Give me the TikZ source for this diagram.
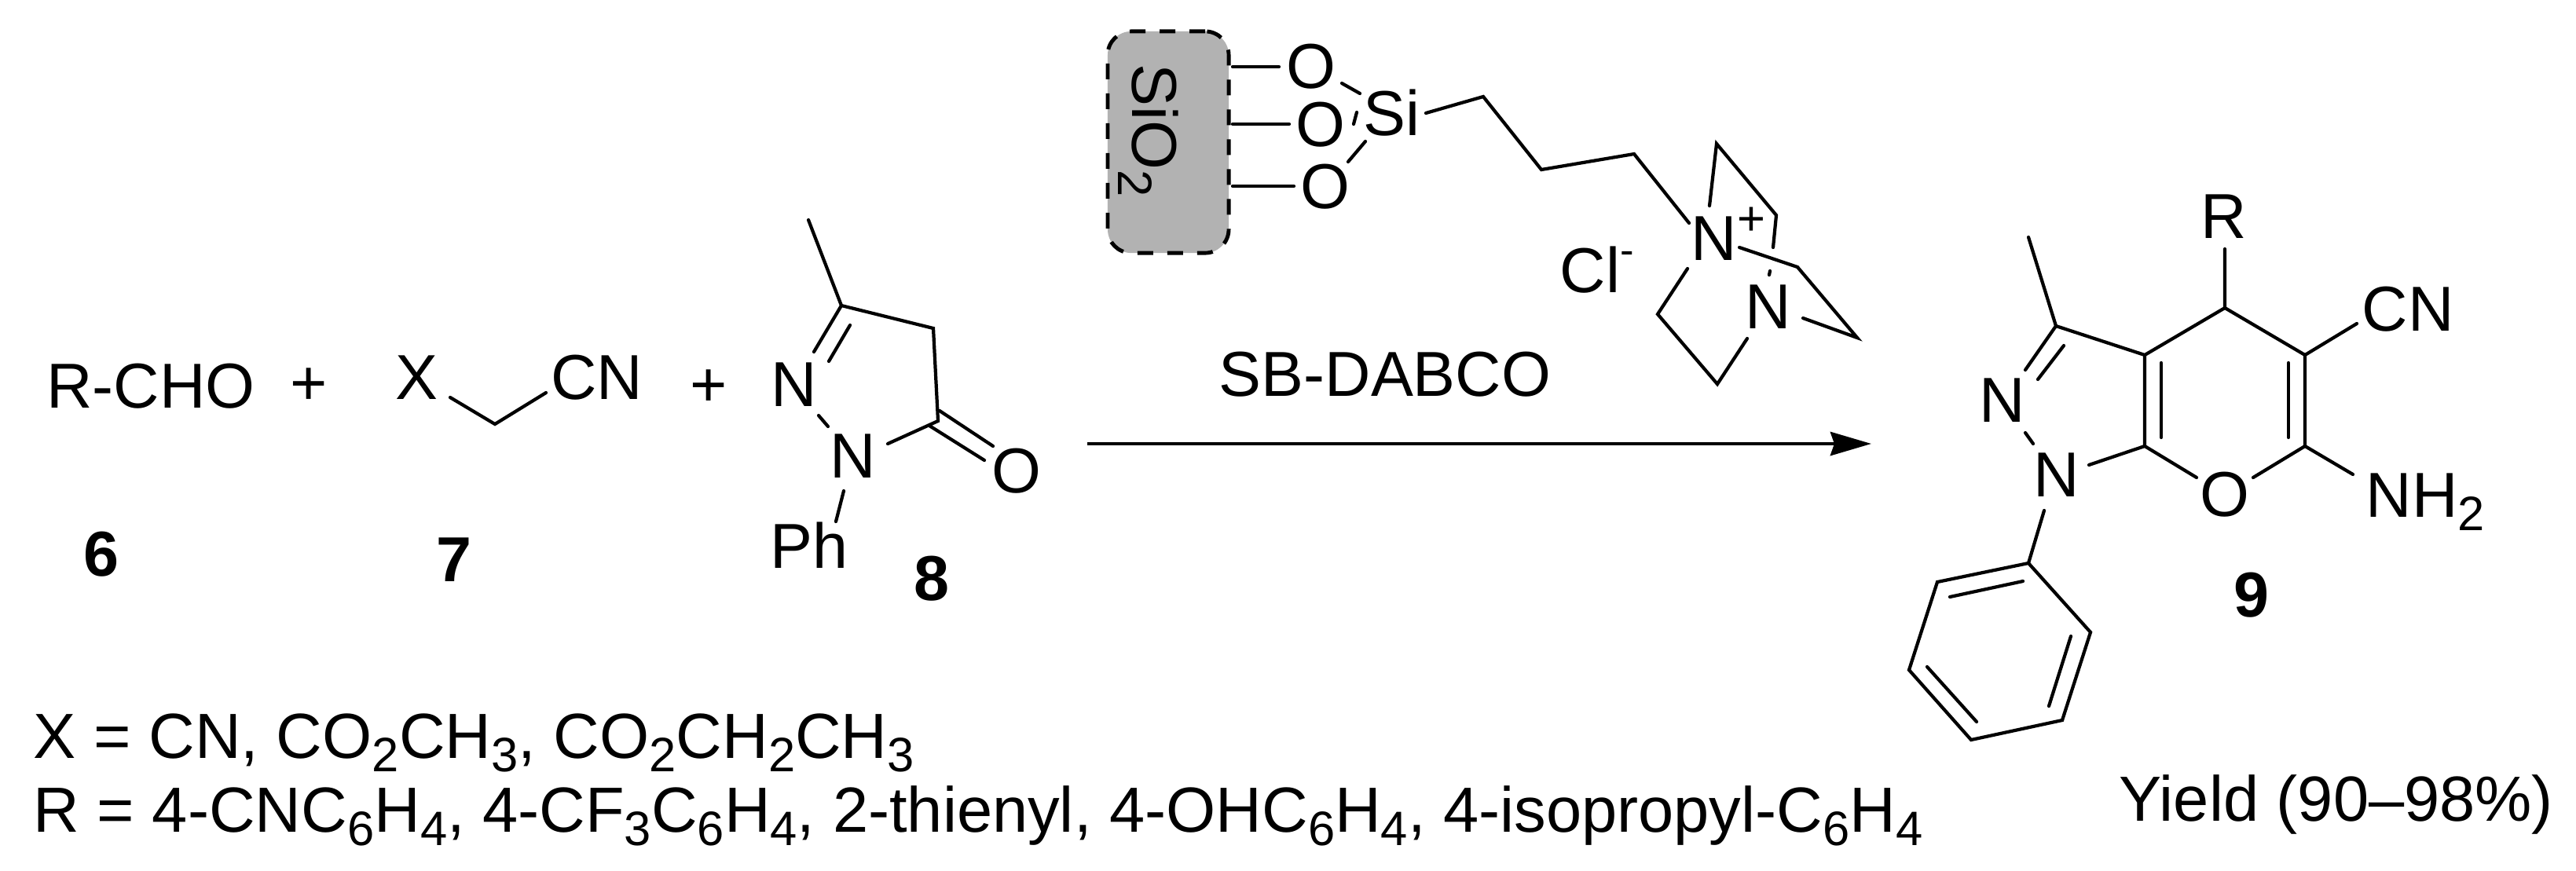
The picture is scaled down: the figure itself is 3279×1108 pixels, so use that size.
\documentclass[tikz,border=0pt]{standalone}
\usepackage{fontspec}
\setmainfont{Liberation Sans}
\usetikzlibrary{arrows.meta}
\newcommand{\lowbit}[1]{\raisebox{-5pt}{\fontsize{17.5}{18}\selectfont #1}}
\newcommand{\highbit}[1]{\raisebox{9pt}{\fontsize{17.5}{18}\selectfont #1}}
\tikzset{
	bond/.style={line width=1.2pt,line cap=round,line join=miter},
	atom/.style={inner sep=0pt,font=\fontsize{23}{27}\selectfont},
	num/.style={inner sep=0pt,font=\fontsize{23}{27}\selectfont\bfseries},
	info/.style={inner sep=0pt,anchor=base west,font=\fontsize{23.1}{27}\selectfont}
}
\begin{document}
\begin{tikzpicture}[x=0.01cm,y=-0.01cm]
	\useasboundingbox (0,0) rectangle (3279,1108);
	% reagents
	\node[atom] (rcho) at (192,492) {R-CHO};
	\node[atom] (plusa) at (393,492) {+};
	\node[atom] (xatom) at (530,481) {X};
	\node[atom] (cnseven) at (760,481) {CN};
	\node[atom] (plusb) at (902,494) {+};
	\node[atom] (neight) at (1011,490) {N};
	\node[atom] (nphe) at (1086,581) {N};
	\node[atom] (oeight) at (1294,600) {O};
	\node[atom] (pheight) at (1030,694) {Ph};
	\node[num] (six) at (129,706) {6};
	\node[num] (seven) at (578,713) {7};
	\node[num] (eight) at (1186,737) {8};
	\foreach \name/\px/\py in {xa/573/506,xb/630/540,xc/695/500,
		me/1029/280,ca/1071/389,cb/1188/418,cc/1194/536,
		na/1036/448,nb/1082/414,nc/1055/460,nd/1042/529,ne/1054/543,
		nf/1130/565,oa/1196/523,ob/1264/568,oc/1183/542,od/1253/586,
		pa/1074/625,pb/1064/664}
		\coordinate (\name) at (\px,\py);
	\draw[bond] (xa) -- (xb) -- (xc);
	\draw[bond] (me) -- (ca) -- (cb) -- (cc) -- (nf);
	\draw[bond] (ca) -- (na) (nb) -- (nc) (nd) -- (ne);
	\draw[bond] (oa) -- (ob) (oc) -- (od) (pa) -- (pb);
	% catalyst
	\node[draw,line width=1.4pt,dash pattern=on 0.2cm off 0.18cm,fill=black!30,rounded corners=0.3cm,minimum width=1.54cm,minimum height=2.82cm,inner sep=0pt] (silica) at (1487,181) {};
	\node[atom,rotate=-90,anchor=base west] (sio) at (1441,81) {SiO\lowbit{2}};
	\node[atom] (oone) at (1669,85) {O};
	\node[atom] (otwo) at (1681,159) {O};
	\node[atom] (othree) at (1687,238) {O};
	\node[atom] (si) at (1771,144) {Si};
	\node[atom,anchor=base west] (nplus) at (2152,331) {N\highbit{+}};
	\node[atom] (ndabco) at (2251,391) {N};
	\node[atom,anchor=base west] (chloride) at (1985,372) {Cl\raisebox{10pt}{\fontsize{15}{15}\selectfont -}};
	\node[atom] (sbdabco) at (1763,477) {SB-DABCO};
	\foreach \name/\px/\py in {sa/1569/85,sb/1628/85,sc/1569/158,sd/1641/158,se/1569/237,sf/1647/237,
		ta/1708/106,tb/1731/119,tc/1727/143,td/1723/158,te/1738/180,tf/1716/206,
		ua/1815/144,ub/1888/123,uc/1962/216,ud/2080/196,ue/2150/284,
		va/2176/262,vb/2185/183,vc/2261/274,vd/2257/315,
		wa/2214/315,wb/2288/340,wc/2364/430,wd/2295/405,
		ya/2148/342,yb/2110/400,yc/2186/489,yd/2224/431,
		za/2253/345,zb/2252/350}
		\coordinate (\name) at (\px,\py);
	\draw[bond] (sa) -- (sb) (sc) -- (sd) (se) -- (sf);
	\draw[bond] (ta) -- (tb) (tc) -- (td) (te) -- (tf);
	\draw[bond] (ua) -- (ub) -- (uc) -- (ud) -- (ue);
	\draw[bond] (va) -- (vb) -- (vc) -- (vd);
	\draw[bond] (wa) -- (wb) -- (wc) -- (wd);
	\draw[bond] (ya) -- (yb) -- (yc) -- (yd);
	\draw[bond] (za) -- (zb);
	% arrow
	\coordinate (arrowa) at (1384,565);
	\coordinate (arrowb) at (2382,565);
	\draw[line width=1.4pt,-{Stealth[length=0.52cm,width=0.3cm,inset=0.05cm]}] (arrowa) -- (arrowb);
	% product
	\node[atom] (rnine) at (2831,276) {R};
	\node[atom] (cnnine) at (3065,394) {CN};
	\node[atom,anchor=base west] (nhtwo) at (3011,658) {NH\lowbit{2}};
	\node[atom] (opyran) at (2832,630) {O};
	\node[atom] (nphnine) at (2618,605) {N};
	\node[atom] (nnine) at (2549,510) {N};
	\node[num] (nine) at (2866,758) {9};
	\foreach \name/\px/\py in {mt/2582/302,ch/2617/415,ci/2730/452,cj/2832/392,ck/2832/317,cl/2934/452,
		cm/3000/412,cn/2934/568,co/2995/604,cp/2730/568,cq/2796/608,cr/2868/608,cs/2659/592,
		ea/2578/471,eb/2627/440,ec/2594/483,ed/2578/551,ee/2588/565,
		fa/2751/462,fb/2751/557,fc/2913/462,fd/2913/557,
		ga/2602/650,gb/2582/717,gc/2661/805,gd/2625/917,ge/2509/942,gf/2430/853,gg/2466/741,
		ha/2482/760,hb/2575/740,hc/2636/810,hd/2608/899,he/2516/919,hf/2453/849}
		\coordinate (\name) at (\px,\py);
	\draw[bond] (mt) -- (ch) -- (ci) -- (cj) -- (cl) -- (cn) -- (cr);
	\draw[bond] (ci) -- (cp) -- (cq) (cp) -- (cs);
	\draw[bond] (cj) -- (ck) (cl) -- (cm) (cn) -- (co);
	\draw[bond] (ch) -- (ea) (eb) -- (ec) (ed) -- (ee);
	\draw[bond] (fa) -- (fb) (fc) -- (fd);
	\draw[bond] (ga) -- (gb);
	\draw[bond] (gb) -- (gc) -- (gd) -- (ge) -- (gf) -- (gg) -- cycle;
	\draw[bond] (ha) -- (hb) (hc) -- (hd) (he) -- (hf);
	% notes
	\node[info] (xlist) at (42,965) {X = CN, CO\lowbit{2}CH\lowbit{3}, CO\lowbit{2}CH\lowbit{2}CH\lowbit{3}};
	\node[info] (rlist) at (42,1059) {R = 4-CNC\lowbit{6}H\lowbit{4}, 4-CF\lowbit{3}C\lowbit{6}H\lowbit{4}, 2-thienyl, 4-OHC\lowbit{6}H\lowbit{4}, 4-isopropyl-C\lowbit{6}H\lowbit{4}};
	\node[info] (yield) at (2697,1045) {Yield (90–98\%)};
\end{tikzpicture}
\end{document}
